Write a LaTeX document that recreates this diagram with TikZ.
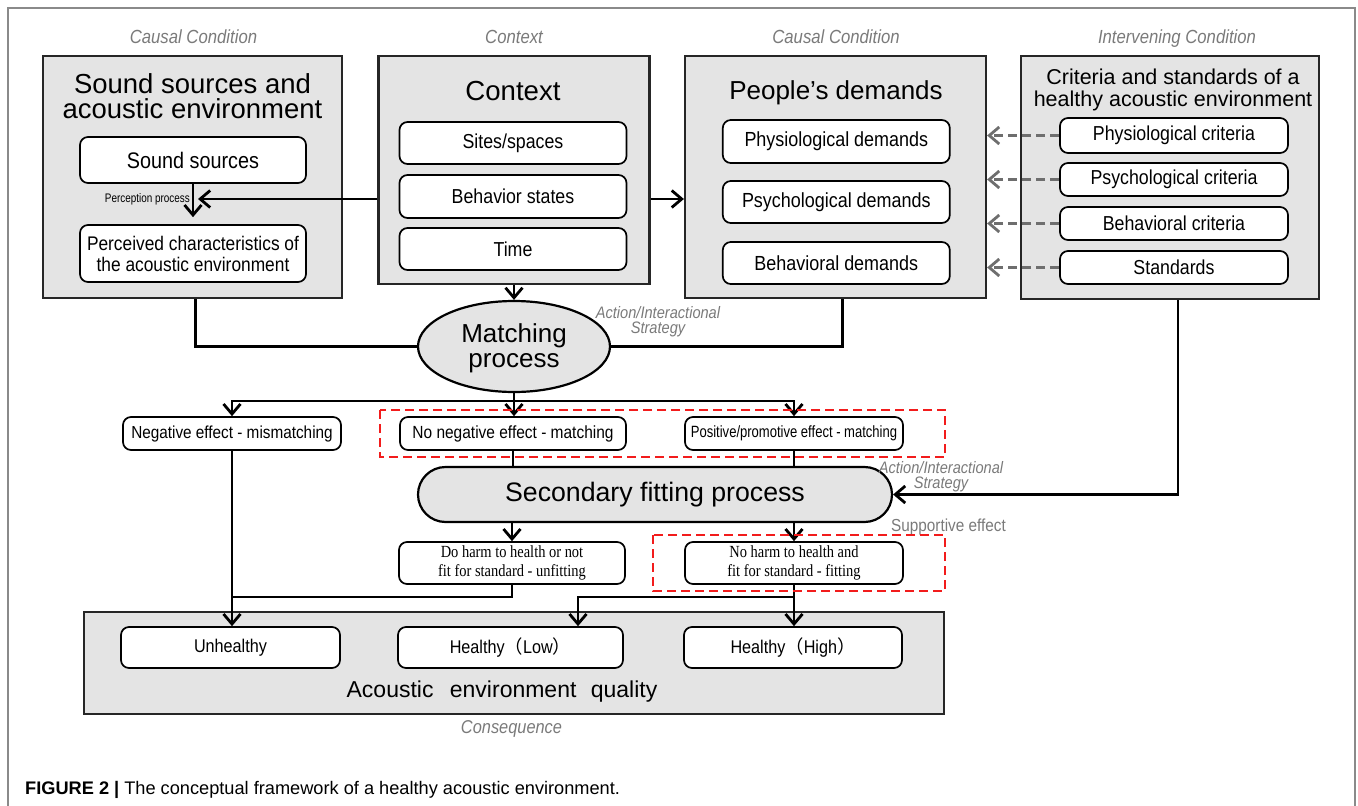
\documentclass[tikz,border=0pt]{standalone}
\usepackage{fontspec}
\setmainfont{Liberation Sans}
\newfontfamily\nar{Liberation Sans}[FakeStretch=0.88]
\newfontfamily\narr{Liberation Sans}[FakeStretch=0.8]
\newfontfamily\ser{Liberation Serif}[FakeStretch=0.85]
\newfontfamily\cjk{Noto Sans CJK SC}
\usetikzlibrary{arrows.meta,shapes.geometric,shapes.misc}
\definecolor{boxgray}{HTML}{E4E4E4}
\definecolor{lgray}{HTML}{7A7A7A}
\definecolor{dgray}{HTML}{6E6E6E}
\definecolor{fgray}{HTML}{8A8A8A}
\definecolor{rred}{HTML}{F21C1C}
\newcommand{\fsz}[2]{\fontsize{#1}{#2}\selectfont}
\begin{document}
\begin{tikzpicture}[x=1pt,y=-1pt,
  bigbox/.style={draw=black!85, line width=2.2pt, fill=boxgray, inner sep=0pt},
  wbox/.style={draw=black, line width=1.7pt, fill=white, rounded corners=8pt, inner sep=0pt, align=center},
  ttl/.style={inner sep=0pt, align=center},
  glabel/.style={inner sep=0pt, text=lgray, font=\nar\itshape\fsz{19}{19}},
  conn/.style={line width=2.8pt, draw=black},
  arr/.style={conn, -{Straight Barb[length=10pt,width=17pt]}},
  dasharr/.style={line width=2.8pt, draw=dgray, dash pattern=on 9pt off 5pt, -{Straight Barb[length=10pt,width=17pt]}},
  reddash/.style={draw=rred, line width=2.6pt, dash pattern=on 9pt off 5pt},
  frame/.style={draw=fgray, line width=1.5pt}
]
\useasboundingbox (0,0) rectangle (1358,806);
\draw[frame] (8,806) -- (8,8) -- (1355,8) -- (1355,806);

% top category labels
\node[glabel, anchor=base] (l1) at (193.5,43) {Causal Condition};
\node[glabel, anchor=base] (l2) at (514,43) {Context};
\node[glabel, anchor=base] (l3) at (836,43) {Causal Condition};
\node[glabel, anchor=base] (l4) at (1177,43) {Intervening Condition};

% big boxes
\node[bigbox, minimum width=299pt, minimum height=242pt] (b1) at (192.5,177) {};
\node[bigbox, minimum width=271pt, minimum height=228pt] (b2) at (514,170) {};
\node[bigbox, minimum width=301pt, minimum height=242pt] (b3) at (835.5,177) {};
\node[bigbox, minimum width=298pt, minimum height=243pt] (b4) at (1170,177.5) {};
\node[bigbox, minimum width=860pt, minimum height=102pt] (bb) at (514,663) {};

% titles
\node[ttl, anchor=north, font=\fsz{27.5}{25}] (t1) at (192.5,73) {Sound sources and\\acoustic environment};
\node[ttl, anchor=base, font=\fsz{27.6}{28}] (t2) at (513,100) {Context};
\node[ttl, anchor=base, font=\fsz{26}{28}] (t3) at (836,99) {People’s demands};
\node[ttl, anchor=north, font=\fsz{21.5}{21.5}] (t4) at (1173,69) {Criteria and standards of a\\healthy acoustic environment};

% box 1 contents
\node[wbox, minimum width=226pt, minimum height=46pt, font=\nar\fsz{22.5}{22}] (ss) at (193,160) {Sound sources};
\node[wbox, minimum width=226pt, minimum height=57pt, font=\nar\fsz{19.7}{21}] (pc) at (193,253.5) {Perceived characteristics of\\the acoustic environment};
\node[inner sep=0pt, anchor=base east, font=\narr\fsz{12.4}{13}] (pp) at (190,202) {Perception process};

% box 2 contents
\node[wbox, minimum width=227pt, minimum height=42pt, font=\nar\fsz{20.2}{20}] (s1) at (513,143) {Sites/spaces};
\node[wbox, minimum width=227pt, minimum height=43pt, font=\nar\fsz{20.2}{20}] (s2) at (513,196.5) {Behavior states};
\node[wbox, minimum width=227pt, minimum height=42pt, font=\nar\fsz{20.2}{20}] (s3) at (513,249) {Time};

% box 3 contents
\node[wbox, minimum width=227pt, minimum height=43pt, font=\nar\fsz{20.4}{20}] (d1) at (836.3,141.5) {Physiological demands};
\node[wbox, minimum width=227pt, minimum height=42pt, font=\nar\fsz{20.4}{20}] (d2) at (836.3,202) {Psychological demands};
\node[wbox, minimum width=227pt, minimum height=42pt, font=\nar\fsz{20.4}{20}] (d3) at (836.3,263) {Behavioral demands};

% box 4 contents
\node[wbox, minimum width=228pt, minimum height=35pt, font=\nar\fsz{20.2}{20}] (c1) at (1174,135.5) {Physiological criteria};
\node[wbox, minimum width=228pt, minimum height=33pt, font=\nar\fsz{20.2}{20}] (c2) at (1174,179.5) {Psychological criteria};
\node[wbox, minimum width=228pt, minimum height=33pt, font=\nar\fsz{20.2}{20}] (c3) at (1174,223.5) {Behavioral criteria};
\node[wbox, minimum width=228pt, minimum height=33pt, font=\nar\fsz{20.2}{20}] (c4) at (1174,267.5) {Standards};

% matching process
\node[ellipse, draw=black, line width=2.2pt, fill=boxgray, minimum width=192pt, minimum height=91pt, inner sep=0pt, align=center, font=\fsz{26}{25}] (match) at (514,346.5) {\rule{0pt}{23pt}Matching\\process};
\node[glabel, anchor=north, align=center, font=\nar\itshape\fsz{16.6}{15}] (a1) at (658,306) {Action/Interactional\\Strategy};

% effects
\node[wbox, minimum width=218pt, minimum height=33pt, font=\nar\fsz{17.4}{18}] (n1) at (232,433.5) {Negative effect - mismatching};
\node[wbox, minimum width=226pt, minimum height=33pt, font=\nar\fsz{17.6}{18}] (n2) at (513,433.5) {No negative effect - matching};
\node[wbox, minimum width=218pt, minimum height=33pt, font=\narr\fsz{16.3}{18}] (n3) at (794,433.5) {Positive/promotive effect - matching};

% secondary fitting
\node[rounded rectangle, draw=black, line width=2.2pt, fill=boxgray, minimum width=474pt, minimum height=55pt, inner sep=0pt, font=\fsz{26.7}{28}] (sec) at (655,494.5) {Secondary fitting process};
\node[glabel, anchor=north, align=center, font=\nar\itshape\fsz{16.6}{15}] (a2) at (941,461) {Action/Interactional\\Strategy};
\node[inner sep=0pt, anchor=base, text=lgray, font=\nar\fsz{17.4}{18}] (se) at (948.5,531) {Supportive effect};

% fitting results
\node[wbox, minimum width=226pt, minimum height=42pt, font=\ser\fsz{17}{18.5}] (h1) at (512,563) {Do harm to health or not\\fit for standard - unfitting};
\node[wbox, minimum width=218pt, minimum height=42pt, font=\ser\fsz{17}{18.5}] (h2) at (794,563) {No harm to health and\\fit for standard - fitting};

% outcomes
\node[wbox, minimum width=219pt, minimum height=41pt, font=\nar\fsz{18.4}{18}] (u1) at (230.5,647.5) {Unhealthy};
\node[wbox, minimum width=225pt, minimum height=41pt, font=\nar\fsz{18.4}{18}] (u2) at (510.5,647.5) {Healthy{\cjk（}Low{\cjk）}};
\node[wbox, minimum width=218pt, minimum height=41pt, font=\nar\fsz{18.4}{18}] (u3) at (793,647.5) {Healthy{\cjk（}High{\cjk）}};
\node[inner sep=0pt, anchor=base, font=\fsz{23}{24}] (aeq) at (502,697) {Acoustic\hspace{10pt} environment\hspace{8pt} quality};
\node[glabel, anchor=base, font=\nar\itshape\fsz{18.6}{19}] (l5) at (511.5,733) {Consequence};

% connectors
\coordinate (pj) at (198,199);
\draw[arr] (ss.south) -- ([yshift=7pt]pc.north);
\draw[arr] (pj -| b2.west) -- (pj);
\draw[arr] (pj -| b2.east) -- (pj -| b3.west);
\draw[arr] (b2.south) -- (match.north);
\draw[conn] ([xshift=3pt]b1.south) |- (match.west);
\draw[conn] ([xshift=7pt]b3.south) |- (match.east);
\foreach \c in {c1,c2,c3,c4}{\draw[dasharr] (\c.west) -- (\c.west -| b3.east);}

\coordinate (mj) at (514,401);
\draw[conn] (match.south) -- (mj);
\draw[arr] (mj) -| (n1.north);
\draw[arr] (mj) -| (n3.north);
\draw[arr] (mj) -- (mj |- n2.north);

\draw[conn] (n2.south) -- (n2.south |- sec.north);
\draw[conn] (n3.south) -- (n3.south |- sec.north);
\draw[arr] ([xshift=8pt]b4.south) |- (sec.east);
\draw[arr] (sec.south -| h1.north) -- (h1.north);
\draw[arr] (sec.south -| h2.north) -- (h2.north);

\coordinate (low) at (0,597);
\coordinate (u2in) at ([xshift=67.5pt]u2.north);
\draw[arr] (n1.south) -- (n1.south |- u1.north);
\draw[conn] (h1.south) |- (n1.south |- low);
\draw[arr] (h2.south) -- (h2.south |- u3.north);
\draw[arr] (h2.south |- low) -| (u2in);

% red dashed groups
\draw[reddash] (380,410) rectangle (945,457);
\draw[reddash] (653,535) rectangle (945,591);

% caption
\node[inner sep=0pt, anchor=base west, font=\fsz{18.2}{22}] (cap) at (25,794) {\textbf{FIGURE 2} \textbf{|} The conceptual framework of a healthy acoustic environment.};
\end{tikzpicture}
\end{document}
